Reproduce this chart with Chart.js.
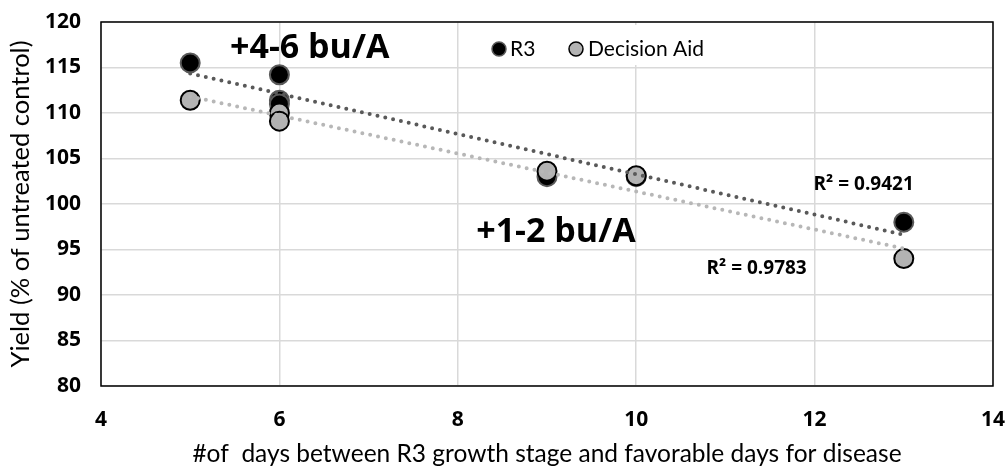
<!DOCTYPE html>
<html>
<head>
<meta charset="utf-8">
<script src="https://cdn.jsdelivr.net/npm/chart.js@4"></script>
<style>
  html, body { margin: 0; padding: 0; background: #fff; }
  #wrap { width: 1008px; height: 471px; }
</style>
</head>
<body>
<div id="wrap"><canvas id="chart"></canvas></div>
<script>
// values
const r3Days = [5, 6, 6, 6, 9, 10, 13];
const r3Yield = [115.5, 114.2, 111.4, 111.0, 103.0, 103.0, 98.0];
const daDays = [5, 6, 6, 9, 10, 13];
const daYield = [111.4, 110.0, 109.1, 103.6, 103.1, 94.0];
const xTicks = [4, 6, 8, 10, 12, 14];
const yTicks = [80, 85, 90, 95, 100, 105, 110, 115, 120];
const r2Labels = ['R\u00b2 = 0.9421', 'R\u00b2 = 0.9783'];
const gainLabels = ['+4-6 bu/A', '+1-2 bu/A'];

const FONT = 'Lato';
const BOLD = 'Open Sans';

// least squares line, like the Excel trendline
function trend(xs, ys) {
    const n = xs.length;
    const mx = xs.reduce((a, b) => a + b, 0) / n;
    const my = ys.reduce((a, b) => a + b, 0) / n;
    let sxy = 0, sxx = 0;
    xs.forEach((x, i) => { sxy += (x - mx) * (ys[i] - my); sxx += (x - mx) ** 2; });
    const slope = sxy / sxx;
    const x0 = Math.min(...xs), x1 = Math.max(...xs);
    return [{ x: x0, y: my + slope * (x0 - mx) }, { x: x1, y: my + slope * (x1 - mx) }];
}

const toPoints = (xs, ys) => xs.map((x, i) => ({ x: x, y: ys[i] }));

// frame, legend box and the text labels
const extras = {
    id: 'extras',
    beforeDatasetsDraw(chart) {
        const { ctx, chartArea: a } = chart;
        ctx.save();
        // legend box (covers gridlines)
        ctx.fillStyle = '#fff';
        ctx.fillRect(463, 25, 267, 40);
        ctx.lineWidth = 1.5;
        ctx.beginPath();
        ctx.arc(499, 49, 7, 0, Math.PI * 2);
        ctx.fillStyle = '#000';
        ctx.fill();
        ctx.strokeStyle = '#595959';
        ctx.stroke();
        ctx.beginPath();
        ctx.arc(576, 49, 7, 0, Math.PI * 2);
        ctx.fillStyle = '#b3b3b3';
        ctx.fill();
        ctx.strokeStyle = '#000';
        ctx.stroke();
        ctx.fillStyle = '#000';
        ctx.font = '21px ' + FONT;
        ctx.textBaseline = 'middle';
        ctx.textAlign = 'left';
        ctx.fillText('R3', 510, 49);
        ctx.fillText('Decision Aid', 588, 49);
        // plot frame
        ctx.strokeStyle = '#000';
        ctx.lineWidth = 1.5;
        ctx.strokeRect(a.left, a.top, a.right - a.left, a.bottom - a.top);
        ctx.restore();
    },
    afterDatasetsDraw(chart) {
        const { ctx, scales } = chart;
        const x = scales.x, y = scales.y;
        ctx.save();
        ctx.fillStyle = '#000';
        ctx.textAlign = 'center';
        ctx.textBaseline = 'middle';
        ctx.font = 'bold 34px "' + BOLD + '"';
        ctx.fillText(gainLabels[0], x.getPixelForValue(6.34), y.getPixelForValue(117.1));
        ctx.fillText(gainLabels[1], x.getPixelForValue(9.1), y.getPixelForValue(96.9));
        ctx.font = 'bold 19px "' + BOLD + '"';
        ctx.fillText(r2Labels[0], x.getPixelForValue(12.55), y.getPixelForValue(102.1));
        ctx.fillText(r2Labels[1], x.getPixelForValue(11.35), y.getPixelForValue(92.9));
        ctx.restore();
    }
};

new Chart(document.getElementById('chart'), {
    type: 'scatter',
    data: {
        datasets: [
            {
                label: 'R3 trend',
                type: 'line',
                data: trend(r3Days, r3Yield),
                borderColor: '#595959',
                borderWidth: 4,
                borderDash: [0, 8],
                borderCapStyle: 'round',
                pointRadius: 0,
                order: -2
            },
            {
                label: 'Decision Aid trend',
                type: 'line',
                data: trend(daDays, daYield),
                borderColor: '#b7b7b7',
                borderWidth: 4,
                borderDash: [0, 8],
                borderCapStyle: 'round',
                pointRadius: 0,
                order: -1
            },
            {
                label: 'Decision Aid',
                data: toPoints(daDays, daYield),
                backgroundColor: '#b3b3b3',
                borderColor: '#000',
                borderWidth: 2,
                pointRadius: 9.5,
                order: 0
            },
            {
                label: 'R3',
                data: toPoints(r3Days, r3Yield),
                backgroundColor: '#000',
                borderColor: '#595959',
                borderWidth: 2,
                pointRadius: 9.5,
                order: 1
            }
        ]
    },
    options: {
        responsive: true,
        maintainAspectRatio: false,
        animation: false,
        layout: { padding: { top: 22, right: 15, left: 0, bottom: 0 } },
        plugins: {
            legend: { display: false },
            tooltip: { enabled: false }
        },
        scales: {
            x: {
                type: 'linear',
                min: 4,
                max: 14,
                afterBuildTicks: s => { s.ticks = xTicks.map(v => ({ value: v })); },
                afterFit: s => { s.height = 85; s.paddingLeft = 0; s.paddingRight = 0; },
                grid: { color: '#d9d9d9', lineWidth: 1.5, drawTicks: false },
                border: { display: false },
                ticks: { color: '#000', padding: 21, font: { family: BOLD, size: 21, weight: 'bold' } },
                title: {
                    display: true,
                    text: '#of  days between R3 growth stage and favorable days for disease',
                    color: '#000',
                    padding: { top: 4, bottom: 2 },
                    font: { family: FONT, size: 24.5 }
                }
            },
            y: {
                min: 80,
                max: 120,
                afterBuildTicks: s => { s.ticks = yTicks.map(v => ({ value: v })); },
                afterFit: s => { s.width = 101; s.paddingTop = 0; s.paddingBottom = 0; },
                grid: { color: '#d9d9d9', lineWidth: 1.5, drawTicks: false },
                border: { display: false },
                ticks: { color: '#000', padding: 20, font: { family: BOLD, size: 21, weight: 'bold' } },
                title: {
                    display: true,
                    text: 'Yield (% of untreated control)',
                    color: '#000',
                    padding: { top: 5, bottom: 4 },
                    font: { family: FONT, size: 25.5 }
                }
            }
        }
    },
    plugins: [extras]
});
</script>
</body>
</html>
